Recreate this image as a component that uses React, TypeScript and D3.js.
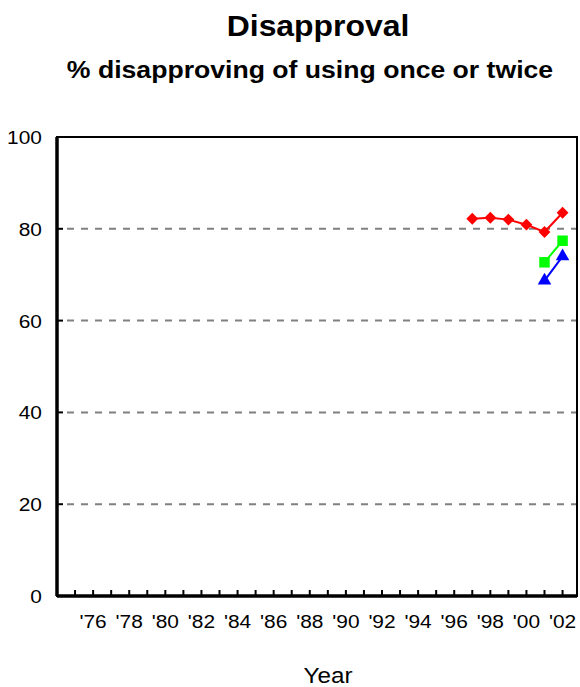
import React from "react";
import * as d3 from "d3";

const tickYears = d3.range(1975, 2003);
const labelYears = d3.range(1976, 2003, 2);
const yTicks = [0, 20, 40, 60, 80, 100];
const gridValues = [20, 40, 60, 80];

const redYears = [1997, 1998, 1999, 2000, 2001, 2002];
const redValues = [82.2, 82.4, 82.0, 80.9, 79.3, 83.5];
const greenYears = [2001, 2002];
const greenValues = [72.7, 77.4];
const blueYears = [2001, 2002];
const blueValues = [68.7, 74.0];

const W = 580, H = 687;
const L = 57, R = 577, T = 137, B = 596;
const FONT = "'Liberation Sans', Arial, sans-serif";
const SX = 1.1;

function T2(props: { x: number; y: number; size: number; bold?: boolean; anchor?: string; children: React.ReactNode }) {
  return (
    <text
      transform={`translate(${props.x},${props.y}) scale(${SX},1)`}
      textAnchor={props.anchor || "middle"}
      fontSize={props.size}
      fontWeight={props.bold ? "bold" : "normal"}
    >
      {props.children}
    </text>
  );
}

export default function App() {
  const x = d3.scaleLinear().domain([1974, 2002.8]).range([L, R]);
  const y = d3.scaleLinear().domain([0, 100]).range([B, T]);
  const line = d3.line<[number, number]>().x(d => x(d[0])).y(d => y(d[1]));

  const red = redYears.map((yr, i) => [yr, redValues[i]] as [number, number]);
  const green = greenYears.map((yr, i) => [yr, greenValues[i]] as [number, number]);
  const blue = blueYears.map((yr, i) => [yr, blueValues[i]] as [number, number]);

  const diamond = d3.symbol().type(d3.symbolDiamond2).size(90)() as string;
  const square = d3.symbol().type(d3.symbolSquare).size(110)() as string;
  const triangle = d3.symbol().type(d3.symbolTriangle).size(80)() as string;

  return (
    <svg width={W} height={H} style={{ position: "absolute", left: 0, top: 0 }} fontFamily={FONT}>
      <rect width={W} height={H} fill="#fff" />
      <T2 x={318} y={36} size={29} bold>Disapproval</T2>
      <T2 x={310} y={78} size={24.2} bold>% disapproving of using once or twice</T2>

      {gridValues.map(v => (
        <line key={v} x1={L + 10} x2={R} y1={y(v)} y2={y(v)} stroke="#808080" strokeWidth={2} strokeDasharray="7,7" />
      ))}

      {yTicks.map(v => (
        <g key={v}>
          <line x1={L} x2={L + 6} y1={y(v)} y2={y(v)} stroke="#000" strokeWidth={2} />
          <T2 x={42} y={y(v) + 7} size={19} anchor="end">{v}</T2>
        </g>
      ))}

      {tickYears.map(yr => (
        <line key={yr} x1={x(yr)} x2={x(yr)} y1={B} y2={B - 6} stroke="#000" strokeWidth={2} />
      ))}
      {labelYears.map(yr => (
        <T2 key={yr} x={x(yr)} y={628} size={19}>{"'" + String(yr).slice(2)}</T2>
      ))}

      <rect x={L} y={T} width={R - L} height={B - T} fill="none" stroke="#000" strokeWidth={2} />
      <line x1={L} x2={L} y1={T} y2={B} stroke="#000" strokeWidth={3.5} />
      <line x1={L} x2={R} y1={B} y2={B} stroke="#000" strokeWidth={3.5} />

      <path d={line(red) as string} fill="none" stroke="#FF0000" strokeWidth={2} />
      {red.map((d, i) => <path key={i} d={diamond} transform={`translate(${x(d[0])},${y(d[1])})`} fill="#FF0000" />)}
      <path d={line(green) as string} fill="none" stroke="#00FF00" strokeWidth={2} />
      {green.map((d, i) => <path key={i} d={square} transform={`translate(${x(d[0])},${y(d[1])})`} fill="#00FF00" />)}
      <path d={line(blue) as string} fill="none" stroke="#0000FF" strokeWidth={2} />
      {blue.map((d, i) => <path key={i} d={triangle} transform={`translate(${x(d[0])},${y(d[1])})`} fill="#0000FF" />)}

      <T2 x={328} y={683} size={22}>Year</T2>
    </svg>
  );
}
